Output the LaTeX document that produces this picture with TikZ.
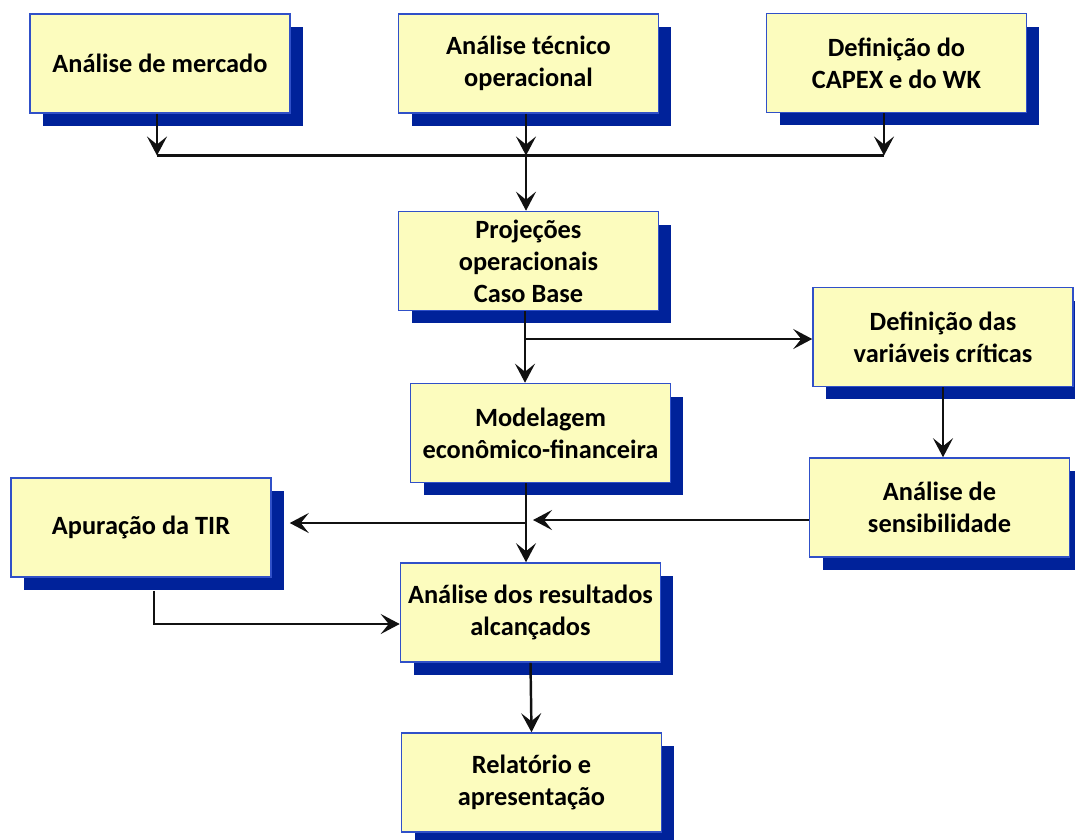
\documentclass[tikz,border=0pt]{standalone}
\usepackage{fontspec}
\setmainfont{Carlito}
\usetikzlibrary{arrows.meta, shadows}
\definecolor{boxfill}{HTML}{FCFCBE}
\definecolor{boxline}{HTML}{3050C8}
\definecolor{shadowblue}{HTML}{00229A}
\definecolor{arrowblk}{HTML}{111111}

\begin{document}
\begin{tikzpicture}[
    x=0.02cm, y=-0.02cm,
    >={Stealth[length=0.38cm, width=0.4cm, inset=0.16cm]},
    etapa/.style={rectangle, fill=boxfill, draw=boxline, line width=0.9pt,
        minimum width=5.2cm, minimum height=1.98cm, align=center,
        font=\fontsize{15}{18.2}\selectfont\bfseries,
        drop shadow={shadow xshift=0.26cm, shadow yshift=-0.26cm,
                     fill=shadowblue, opacity=1}},
    fluxo/.style={->, line width=1.4pt, arrowblk},
    linha/.style={line width=1.4pt, arrowblk},
  ]

  \useasboundingbox (0,0) rectangle (1075,839);

  % Nodes
  \node[etapa] (mercado) at (160,63.5) {Análise de mercado};
  \node[etapa] (tecnico) at (528.5,63.5) {Análise técnico\\operacional};
  \node[etapa] (capex) at (896.5,63) {Definição do\\CAPEX e do WK};
  \node[etapa] (projecoes) at (528.5,261) {Projeções\\operacionais\\Caso Base};
  \node[etapa] (modelagem) at (540.5,433) {Modelagem\\econômico-financeira};
  \node[etapa] (variaveis) at (943,337) {Definição das\\variáveis críticas};
  \node[etapa] (sensib) at (939.5,507.5) {Análise de\\sensibilidade};
  \node[etapa] (tir) at (141,527.5) {Apuração da TIR};
  \node[etapa] (resultados) at (530.5,612.5) {Análise dos resultados\\alcançados};
  \node[etapa] (relatorio) at (531.5,782.5) {Relatório e\\apresentação};

  % Junction points
  \coordinate (b1) at (157,155.5);
  \coordinate (b2) at (526,155.5);
  \coordinate (b3) at (884,155.5);
  \coordinate (p1) at (525,339);
  \coordinate (m1) at (526,523);
  \coordinate (s1) at (533,520);
  \coordinate (t2) at (154,624);

  % Top row into the collector line
  \draw[fluxo] (mercado.south -| b1) -- (b1);
  \draw[fluxo] (tecnico.south -| b2) -- (b2);
  \draw[fluxo] (capex.south -| b3) -- (b3);
  \draw[linha] (b1) -- (b3);
  \draw[fluxo] (b2) -- (projecoes.north -| b2);

  % Projections
  \draw[fluxo] (projecoes.south -| p1) -- (modelagem.north -| p1);
  \draw[fluxo] (p1) -- (variaveis.west |- p1);
  \draw[fluxo] (variaveis.south) -- (sensib.north -| variaveis.south);

  % Modelling and sensitivity
  \draw[fluxo] (modelagem.south -| m1) -- (resultados.north -| m1);
  \draw[fluxo, shorten >=0.36cm] (m1) -- (tir.east |- m1);
  \draw[fluxo] (sensib.west |- s1) -- (s1);

  % Results
  \draw[fluxo, shorten <=0.26cm] (tir.south -| t2) -- (t2) -- (resultados.west |- t2);
  \draw[fluxo] (resultados.south) -- (relatorio.north);

\end{tikzpicture}
\end{document}
